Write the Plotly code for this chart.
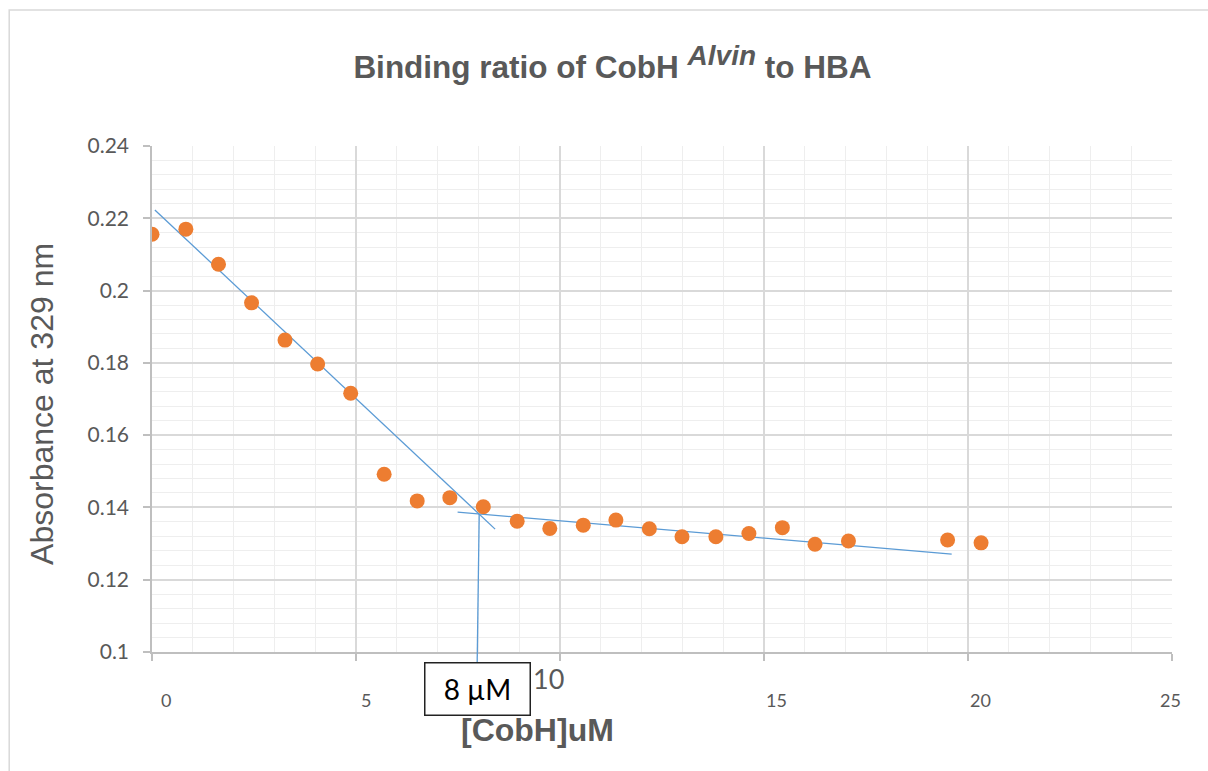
import plotly.graph_objects as go

# ---- data ----
cobh_um = [0, 0.83, 1.63, 2.44, 3.26, 4.06, 4.87, 5.69, 6.50, 7.30, 8.12, 8.95,
           9.75, 10.57, 11.37, 12.19, 12.99, 13.82, 14.63, 15.45, 16.25, 17.07,
           19.50, 20.32]
absorbance = [0.2156, 0.2170, 0.2073, 0.1966, 0.1863, 0.1797, 0.1716, 0.1492,
              0.1418, 0.1427, 0.1402, 0.1362, 0.1342, 0.1351, 0.1365, 0.1341,
              0.1319, 0.1319, 0.1328, 0.1344, 0.1298, 0.1307, 0.1310, 0.1302]

steep_x = [0.07, 8.41]
steep_y = [0.2223, 0.1340]
flat_x = [7.49, 19.60]
flat_y = [0.1387, 0.1271]
drop_x = [8.02, 7.97]
drop_y = [0.1382, 0.0972]

x_tick_vals = [0, 5, 10, 15, 20, 25]
x_tick_text = ["0", "5", "10", "15", "20", "25"]
y_tick_vals = [0.10, 0.12, 0.14, 0.16, 0.18, 0.20, 0.22, 0.24]
y_tick_text = ["0.1", "0.12", "0.14", "0.16", "0.18", "0.2", "0.22", "0.24"]

X_RANGE = [0, 25]
Y_RANGE = [0.10, 0.24]

GRAY = "#595959"
LINE_BLUE = "#5B9BD5"
ORANGE = "#ED7D31"

fig = go.Figure()

fig.add_trace(go.Scatter(x=steep_x, y=steep_y, mode="lines",
                         line=dict(color=LINE_BLUE, width=1.3),
                         showlegend=False, hoverinfo="skip"))
fig.add_trace(go.Scatter(x=flat_x, y=flat_y, mode="lines",
                         line=dict(color=LINE_BLUE, width=1.3),
                         showlegend=False, hoverinfo="skip"))
fig.add_trace(go.Scatter(x=cobh_um, y=absorbance, mode="markers",
                         marker=dict(color=ORANGE, size=15),
                         showlegend=False))


def yp(v):
    return (v - Y_RANGE[0]) / (Y_RANGE[1] - Y_RANGE[0])


# vertical drop line from intersection to below the axis
fig.add_shape(type="line", xref="x", yref="paper",
              x0=drop_x[0], y0=yp(drop_y[0]), x1=drop_x[1], y1=yp(drop_y[1]),
              line=dict(color=LINE_BLUE, width=1.3), layer="above")

# outer chart border
fig.add_shape(type="rect", xref="paper", yref="paper",
              x0=-0.140, y0=-0.26, x1=1.06, y1=1.2688,
              line=dict(color="#d9d9d9", width=1.5), layer="below")

# x tick labels (custom positions as in the original)
x_label_shift = [14, 10, -12, 12, 12, -2]
x_label_y = [-0.095, -0.095, -0.052, -0.095, -0.095, -0.095]
x_label_size = [18, 18, 27, 18, 18, 18]
for v, t, dx, yy, fs in zip(x_tick_vals, x_tick_text, x_label_shift, x_label_y, x_label_size):
    fig.add_annotation(x=v, y=yy, xref="x", yref="paper", text=t, showarrow=False,
                       xshift=dx, xanchor="center", yanchor="middle",
                       font=dict(family="Lato", size=fs, color=GRAY))

# the 8 µM box
fig.add_annotation(x=7.98, y=-0.0741, xref="x", yref="paper", text="8 µM",
                   showarrow=False, xanchor="center", yanchor="middle",
                   width=104, height=51, bgcolor="white",
                   bordercolor="#222222", borderwidth=1.5, borderpad=0,
                   font=dict(family="Lato", size=28, color="black"))

# axis titles
fig.add_annotation(x=0.378, y=-0.154, xref="paper", yref="paper",
                   text="<b>[CobH]uM</b>", showarrow=False,
                   xanchor="center", yanchor="middle",
                   font=dict(family="Liberation Sans", size=32, color=GRAY))
fig.add_annotation(x=-0.108, y=0.49, xref="paper", yref="paper",
                   text="Absorbance at 329 nm", showarrow=False, textangle=-90,
                   xanchor="center", yanchor="middle",
                   font=dict(family="Liberation Sans", size=32, color=GRAY))

fig.update_layout(
    width=1208, height=771,
    margin=dict(l=152, r=36, t=146, b=119),
    paper_bgcolor="white", plot_bgcolor="white",
    title=dict(text="<b>Binding ratio of CobH <sup><span style='font-size:28px'><i>Alvin</i></span></sup> to HBA</b>",
               x=0.507, xref="container", xanchor="center",
               y=0.913, yref="container", yanchor="middle",
               font=dict(family="Liberation Sans", size=31.5, color=GRAY)),
    xaxis=dict(range=X_RANGE, tickvals=x_tick_vals, showticklabels=False,
               showgrid=True, gridcolor="#d9d9d9", gridwidth=1.5,
               minor=dict(dtick=1, showgrid=True, gridcolor="#eeeeee", gridwidth=1),
               showline=True, linecolor="#bfbfbf", linewidth=1.5,
               ticks="outside", ticklen=7, tickcolor="#bfbfbf", tickwidth=1.5,
               zeroline=False, fixedrange=True),
    yaxis=dict(range=Y_RANGE, tickvals=y_tick_vals, ticktext=y_tick_text,
               showgrid=True, gridcolor="#d9d9d9", gridwidth=1.5,
               minor=dict(dtick=0.004, showgrid=True, gridcolor="#eeeeee", gridwidth=1),
               showline=True, linecolor="#bfbfbf", linewidth=1.5,
               ticks="outside", ticklen=7, tickcolor="#bfbfbf", tickwidth=1.5,
               ticklabelstandoff=10,
               tickfont=dict(family="Lato", size=21, color=GRAY),
               zeroline=False, fixedrange=True),
)

fig.write_html("out.html")
